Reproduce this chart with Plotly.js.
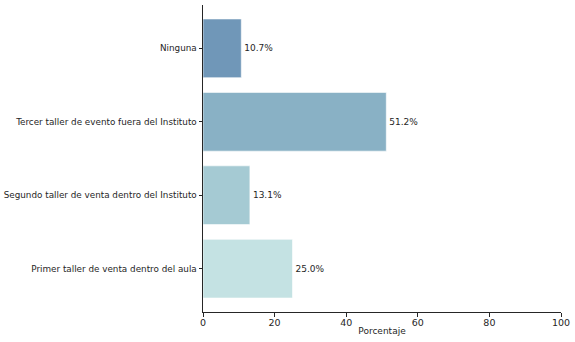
<!DOCTYPE html>
<html><head><meta charset="utf-8">
<script src="https://cdn.plot.ly/plotly-3.0.1.min.js"></script>
<style>html,body{margin:0;padding:0;background:#fff}#c{width:575px;height:342px}</style>
</head><body><div id="c"></div>
<script>
const categories = ["Primer taller de venta dentro del aula","Segundo taller de venta dentro del Instituto","Tercer taller de evento fuera del Instituto","Ninguna"];
const values = [25.0, 13.1, 51.2, 10.7];
const colors = ["#c4e2e3","#a5cad3","#89b1c5","#7097b8"];
const xTicks = [0,20,40,60,80,100];

Plotly.newPlot("c", [{
  type: "bar", orientation: "h",
  y: categories, x: values,
  marker: {color: colors, line: {color: "rgba(255,255,255,0.6)", width: 1}},
  width: 0.8,
  text: values.map(v => v.toFixed(1) + "%"),
  textposition: "outside",
  textfont: {family: "DejaVu Sans", size: 9, color: "#262626"},
  cliponaxis: false,
  hoverinfo: "none"
}], {
  width: 575, height: 342,
  margin: {l: 203, r: 14, t: 5, b: 30},
  paper_bgcolor: "#fff", plot_bgcolor: "#fff",
  font: {family: "DejaVu Sans", size: 9, color: "#262626"},
  showlegend: false,
  xaxis: {
    range: [0, 100], tickvals: xTicks, ticktext: xTicks.map(String),
    showgrid: false, zeroline: false, showline: true, linecolor: "#262626", linewidth: 1,
    ticks: "outside", ticklen: 3.5, tickcolor: "#262626",
    tickfont: {size: 9.5}, ticklabelstandoff: -2,
    title: {text: "Porcentaje", font: {size: 9}, standoff: 0}
  },
  yaxis: {
    type: "category", categoryorder: "array", categoryarray: categories,
    range: [-0.59, 3.59],
    showgrid: false, zeroline: false, showline: true, linecolor: "#262626", linewidth: 1,
    ticks: "outside", ticklen: 3.5, tickcolor: "#262626",
    tickfont: {size: 8.8}
  }
}, {displayModeBar: false, staticPlot: true});
</script></body></html>
